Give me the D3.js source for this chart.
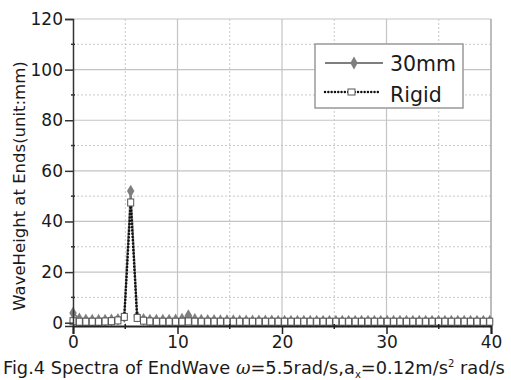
<!DOCTYPE html>
<html>
<head>
    <meta charset="UTF-8">
    <script src="https://d3js.org/d3.v7.min.js"></script>
    <style>
        body { margin: 0; background: #fff; }
        text { font-family: "DejaVu Sans", sans-serif; fill: #1a1a1a; }
    </style>
</head>
<body>
    <svg id="chart" width="511" height="380"></svg>
    <script>
        // frequencies (rad/s) of the spectrum points
        var freq = [0, 0.61, 1.23, 1.84, 2.45, 3.07, 3.68, 4.30, 4.91, 5.52, 6.14, 6.75, 7.36, 7.98, 8.59, 9.20,
            9.82, 10.43, 11.04, 11.66, 12.27, 12.89, 13.50, 14.11, 14.73, 15.34, 15.95, 16.57, 17.18, 17.79,
            18.41, 19.02, 19.63, 20.25, 20.86, 21.48, 22.09, 22.70, 23.32, 23.93, 24.54, 25.16, 25.77, 26.38,
            27.00, 27.61, 28.23, 28.84, 29.45, 30.07, 30.68, 31.29, 31.91, 32.52, 33.13, 33.75, 34.36, 34.98,
            35.59, 36.20, 36.82, 37.43, 38.04, 38.66, 39.27, 39.88];

        var wave30mm = [3.8, 1.5, 1.1, 1.0, 1.0, 1.0, 1.1, 1.3, 2.4, 52.0, 2.6, 1.3, 1.0, 1.0, 1.0, 1.0,
            1.1, 1.4, 2.8, 1.3, 1.0, 0.9, 0.9, 0.8, 0.8, 0.8, 0.7, 0.7, 0.7, 0.7,
            0.7, 0.7, 0.6, 0.6, 0.6, 0.6, 0.6, 0.6, 0.6, 0.6, 0.6, 0.6, 0.6, 0.6,
            0.6, 0.6, 0.6, 0.6, 0.6, 0.6, 0.6, 0.6, 0.6, 0.6, 0.6, 0.6, 0.6, 0.6,
            0.6, 0.6, 0.6, 0.6, 0.6, 0.6, 0.6, 0.6];

        var waveRigid = [0.6, 0.4, 0.4, 0.4, 0.4, 0.5, 0.6, 0.9, 2.3, 47.5, 1.9, 0.8, 0.5, 0.4, 0.4, 0.4,
            0.4, 0.4, 0.5, 0.4, 0.4, 0.4, 0.4, 0.4, 0.4, 0.4, 0.4, 0.4, 0.4, 0.4,
            0.4, 0.4, 0.4, 0.4, 0.4, 0.4, 0.4, 0.4, 0.4, 0.4, 0.4, 0.4, 0.4, 0.4,
            0.4, 0.4, 0.4, 0.4, 0.4, 0.4, 0.4, 0.4, 0.4, 0.4, 0.4, 0.4, 0.4, 0.4,
            0.4, 0.4, 0.4, 0.4, 0.4, 0.4, 0.4, 0.4];

        var xTicks = [0, 10, 20, 30, 40];
        var xMinor = [5, 15, 25, 35];
        var yTicks = [0, 20, 40, 60, 80, 100, 120];
        var yMinor = [10, 30, 50, 70, 90, 110];
        var seriesNames = ["30mm", "Rigid"];

        var svg = d3.select("#chart");
        var pLeft = 73, pRight = 491, pTop = 19, pBottom = 326;

        var x = d3.scaleLinear().domain([0, 40]).range([pLeft, pRight]);
        var y = d3.scaleLinear().domain([-1.3, 120]).range([pBottom, pTop]);

        // grid
        var grid = svg.append("g");
        grid.selectAll(".gy").data(yTicks.filter(function(d) { return d > 0; })).enter().append("line")
            .attr("x1", pLeft).attr("x2", pRight)
            .attr("y1", function(d) { return y(d); }).attr("y2", function(d) { return y(d); })
            .attr("stroke", "#c4c4c4").attr("stroke-width", 1.2);
        grid.selectAll(".gym").data(yMinor).enter().append("line")
            .attr("x1", pLeft).attr("x2", pRight)
            .attr("y1", function(d) { return y(d); }).attr("y2", function(d) { return y(d); })
            .attr("stroke", "#c8c8c8").attr("stroke-width", 1).attr("stroke-dasharray", "2,2");
        grid.selectAll(".gx").data(xTicks.filter(function(d) { return d > 0; })).enter().append("line")
            .attr("y1", pTop).attr("y2", pBottom)
            .attr("x1", function(d) { return x(d); }).attr("x2", function(d) { return x(d); })
            .attr("stroke", "#c4c4c4").attr("stroke-width", 1.2);
        grid.selectAll(".gxm").data(xMinor).enter().append("line")
            .attr("y1", pTop).attr("y2", pBottom)
            .attr("x1", function(d) { return x(d); }).attr("x2", function(d) { return x(d); })
            .attr("stroke", "#c8c8c8").attr("stroke-width", 1).attr("stroke-dasharray", "2,2");

        // right border
        svg.append("line").attr("x1", pRight).attr("x2", pRight).attr("y1", pTop).attr("y2", pBottom)
            .attr("stroke", "#a8a8a8").attr("stroke-width", 1.2);

        var pts30 = freq.map(function(f, i) { return [f, wave30mm[i]]; });
        var ptsR = freq.map(function(f, i) { return [f, waveRigid[i]]; });
        var line = d3.line().x(function(d) { return x(d[0]); }).y(function(d) { return y(d[1]); });

        // 30mm series
        svg.append("path").datum(pts30).attr("d", line)
            .attr("fill", "none").attr("stroke", "#7f7f7f").attr("stroke-width", 2);
        var diamond = d3.symbol().type(d3.symbolDiamond).size(48);
        svg.append("g").selectAll("path").data(pts30).enter().append("path")
            .attr("d", diamond)
            .attr("transform", function(d) { return "translate(" + x(d[0]) + "," + y(d[1]) + ")"; })
            .attr("fill", "#7f7f7f");

        // Rigid series
        svg.append("path").datum(ptsR).attr("d", line)
            .attr("fill", "none").attr("stroke", "#111").attr("stroke-width", 2.6)
            .attr("stroke-dasharray", "0.1,3.2").attr("stroke-linecap", "round");
        svg.append("g").selectAll("rect").data(ptsR).enter().append("rect")
            .attr("x", function(d) { return x(d[0]) - 3; })
            .attr("y", function(d) { return y(d[1]) - 3.5; })
            .attr("width", 6).attr("height", 7)
            .attr("fill", "#fff").attr("stroke", "#555").attr("stroke-width", 1);

        // axes
        var yAxis = svg.append("g")
            .attr("transform", "translate(" + pLeft + ",0)")
            .call(d3.axisLeft(y).tickValues(yTicks).tickSize(8).tickPadding(2));
        yAxis.select(".domain").attr("stroke", "#333").attr("stroke-width", 1.5);
        yAxis.selectAll(".tick line").attr("stroke", "#333").attr("stroke-width", 1.5);
        yAxis.selectAll(".tick text").style("font-size", "17px").attr("fill", "#1a1a1a");
        svg.append("g").selectAll("line").data(yMinor).enter().append("line")
            .attr("x1", pLeft - 2).attr("x2", pLeft + 2)
            .attr("y1", function(d) { return y(d); }).attr("y2", function(d) { return y(d); })
            .attr("stroke", "#333").attr("stroke-width", 1.5);

        var xAxis = svg.append("g")
            .attr("transform", "translate(0," + pBottom + ")")
            .call(d3.axisBottom(x).tickValues(xTicks).tickSize(8).tickPadding(2));
        xAxis.select(".domain").attr("stroke", "#222").attr("stroke-width", 2);
        xAxis.selectAll(".tick line").attr("stroke", "#222").attr("stroke-width", 1.5);
        xAxis.selectAll(".tick text").style("font-size", "17px").attr("fill", "#1a1a1a");
        svg.append("g").selectAll("line").data(xMinor).enter().append("line")
            .attr("y1", pBottom - 2).attr("y2", pBottom + 3)
            .attr("x1", function(d) { return x(d); }).attr("x2", function(d) { return x(d); })
            .attr("stroke", "#222").attr("stroke-width", 1.5);

        // legend
        var lg = svg.append("g");
        lg.append("rect").attr("x", 315).attr("y", 44).attr("width", 148).attr("height", 64)
            .attr("fill", "#fff").attr("stroke", "#999").attr("stroke-width", 1.5);
        lg.append("line").attr("x1", 325).attr("x2", 383).attr("y1", 63).attr("y2", 63)
            .attr("stroke", "#7f7f7f").attr("stroke-width", 2.2);
        lg.append("path").attr("d", diamond).attr("transform", "translate(354,63)").attr("fill", "#7f7f7f");
        lg.append("line").attr("x1", 325).attr("x2", 380).attr("y1", 92).attr("y2", 92)
            .attr("stroke", "#111").attr("stroke-width", 2.4)
            .attr("stroke-dasharray", "0.1,3.2").attr("stroke-linecap", "round");
        lg.append("rect").attr("x", 348).attr("y", 89).attr("width", 7).attr("height", 6)
            .attr("fill", "#fff").attr("stroke", "#555");
        lg.selectAll("text").data(seriesNames).enter().append("text")
            .attr("x", 390).attr("y", function(d, i) { return 71 + i * 31; })
            .style("font-size", "20.5px").text(function(d) { return d; });

        // y axis title
        svg.append("text")
            .attr("transform", "translate(25,186) rotate(-90)")
            .attr("text-anchor", "middle")
            .style("font-size", "16.5px")
            .text("WaveHeight at Ends(unit:mm)");

        // caption
        var cap = svg.append("text").attr("x", 3).attr("y", 374).style("font-size", "17.8px");
        cap.append("tspan").text("Fig.4 Spectra of EndWave ");
        cap.append("tspan").style("font-family", "DejaVu Serif").style("font-style", "italic").text("ω");
        cap.append("tspan").text("=5.5rad/s,a");
        cap.append("tspan").attr("dy", 4).style("font-size", "10px").text("x");
        cap.append("tspan").attr("dy", -4).text("=0.12m/s");
        cap.append("tspan").attr("dy", -7).style("font-size", "10px").text("2");
        cap.append("tspan").attr("dy", 7).text(" rad/s");
    </script>
</body>
</html>
